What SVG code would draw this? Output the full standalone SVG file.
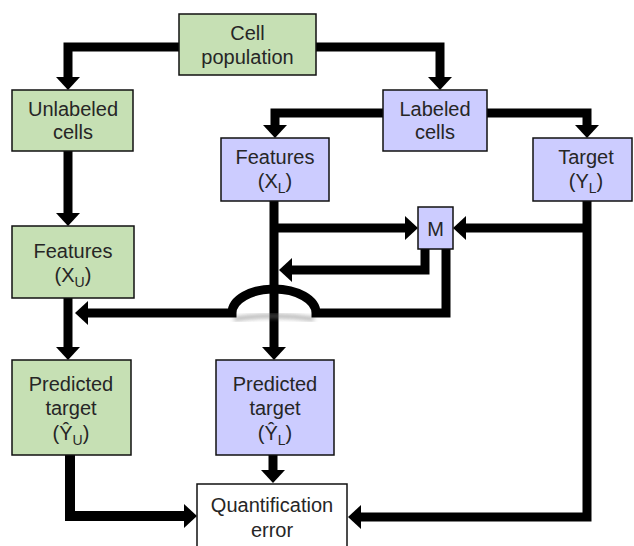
<svg xmlns="http://www.w3.org/2000/svg" width="634" height="546" viewBox="0 0 634 546">
<style>
.g{fill:#c6e0b4;stroke:#111;stroke-width:1.5}
.b{fill:#ccccff;stroke:#111;stroke-width:1.5}
.w{fill:#fff;stroke:#111;stroke-width:1.5}
text{font-family:"Liberation Sans",Arial,sans-serif;font-size:20px;fill:#262626;text-anchor:middle}
.s{font-size:14px}
.c{fill:none;stroke:#000;stroke-width:9;stroke-linejoin:miter}
.c2{fill:none;stroke:#000;stroke-width:10;stroke-linejoin:miter}
</style>
<defs>
<marker id="ah" markerUnits="userSpaceOnUse" viewBox="0 0 13 24" markerWidth="13" markerHeight="24" refX="1" refY="12" orient="auto">
<path d="M0,0 L13,12 L0,24 Z" fill="#000"/>
</marker>
<filter id="blur" x="-20%" y="-100%" width="140%" height="300%"><feGaussianBlur stdDeviation="2"/></filter>
</defs>
<g id="connectors">
<path class="c" d="M179,47 H68 V78" marker-end="url(#ah)"/>
<path class="c" d="M316,47 H440 V78" marker-end="url(#ah)"/>
<path class="c" d="M383,113 H275 V126" marker-end="url(#ah)"/>
<path class="c" d="M487,113 H587 V126" marker-end="url(#ah)"/>
<path class="c" d="M68,151 V214" marker-end="url(#ah)"/>
<path class="c" d="M68,298 V348" marker-end="url(#ah)"/>
<path class="c" d="M274,201 V348" marker-end="url(#ah)"/>
<path class="c" d="M274,228 H406" marker-end="url(#ah)"/>
<path class="c" d="M587,228 H465" marker-end="url(#ah)"/>
<path class="c" d="M425,249 V270 H291" marker-end="url(#ah)"/>
<path d="M234,319 Q274,313 314,319" fill="none" stroke="#777" stroke-width="4" opacity="0.6" filter="url(#blur)"/>
<path class="c" d="M446,249 V313 H316 A42,24 0 0 0 232,313 H87" marker-end="url(#ah)"/>
<path class="c" d="M273,455 V471" marker-end="url(#ah)"/>
<path class="c2" d="M70,455 V516 H185" marker-end="url(#ah)"/>
<path class="c" d="M587,201 V517 H360" marker-end="url(#ah)"/>
</g>
<g id="cell-population"><rect class="g" x="179" y="14" width="137" height="61"/><text x="247.5" y="40">Cell</text><text x="247.5" y="64">population</text></g>
<g id="unlabeled-cells"><rect class="g" x="12" y="90" width="121" height="61"/><text x="73" y="116">Unlabeled</text><text x="73" y="139">cells</text></g>
<g id="labeled-cells"><rect class="b" x="383" y="90" width="104" height="61"/><text x="435" y="116">Labeled</text><text x="435" y="139">cells</text></g>
<g id="features-xl"><rect class="b" x="221" y="138" width="108" height="63"/><text x="275" y="164">Features</text><text x="275" y="188">(X<tspan class="s" dy="5">L</tspan><tspan dy="-5">)</tspan></text></g>
<g id="target-yl"><rect class="b" x="533" y="138" width="99" height="63"/><text x="586" y="164">Target</text><text x="586" y="188">(Y<tspan class="s" dy="5">L</tspan><tspan dy="-5">)</tspan></text></g>
<g id="m"><rect class="b" x="418" y="207" width="35" height="42"/><text x="435.5" y="236">M</text></g>
<g id="features-xu"><rect class="g" x="12" y="226" width="122" height="72"/><text x="73" y="258">Features</text><text x="73" y="282">(X<tspan class="s" dy="5">U</tspan><tspan dy="-5">)</tspan></text></g>
<g id="predicted-u"><rect class="g" x="12" y="360" width="119" height="95"/><text x="71" y="391">Predicted</text><text x="71" y="415">target</text><text x="71" y="440">(Ŷ<tspan class="s" dy="5">U</tspan><tspan dy="-5">)</tspan></text></g>
<g id="predicted-l"><rect class="b" x="216" y="360" width="118" height="95"/><text x="275" y="391">Predicted</text><text x="275" y="415">target</text><text x="275" y="440">(Ŷ<tspan class="s" dy="5">L</tspan><tspan dy="-5">)</tspan></text></g>
<g id="quantification-error"><rect class="w" x="197" y="484" width="150" height="70"/><text x="272" y="512">Quantification</text><text x="272" y="537">error</text></g>
</svg>
